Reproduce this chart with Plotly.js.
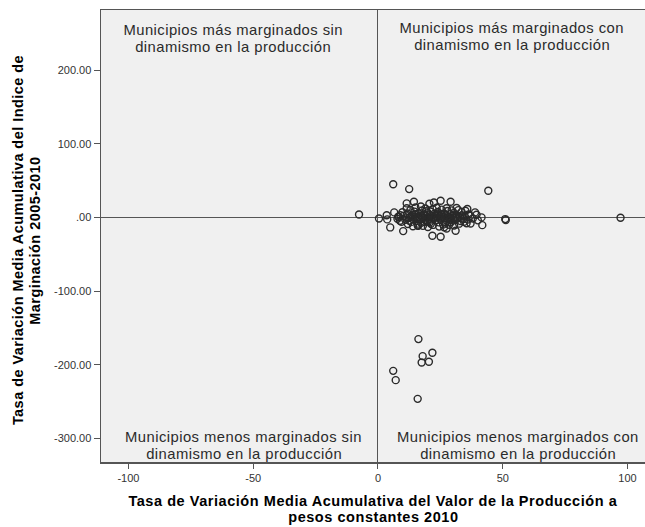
<!DOCTYPE html>
<html>
<head>
<meta charset="utf-8">
<script src="https://cdn.plot.ly/plotly-3.0.1.min.js"></script>
<style>
  html, body { margin: 0; padding: 0; background: #ffffff; overflow: hidden; }
  #chart { width: 645px; height: 527px; }
</style>
</head>
<body>
<div id="chart"></div>
<script>
// Tasa de variación del valor de la producción (x) vs. tasa de variación del índice de marginación (y)
const produccion = [
  -7.6, 0.4, 3.5, 3.7, 6.5, 4.9, 8.1, 8.8, 10.1, 6.1, 12.5, 44.2,
  11.5, 14.4, 20.6, 25.1, 29.1, 22.4, 35.8, 38.9, 41.5, 41.8, 37.1, 15.9,
  16.1, 27.5, 31.1, 21.8, 25.1, 51.2, 51.0, 97.2,
  10.2, 11.0, 11.8, 12.3, 12.9, 13.4, 13.8, 14.2, 14.6, 15.1, 15.5, 15.9,
  16.2, 16.6, 17.0, 17.3, 17.7, 18.1, 18.4, 18.8, 19.1, 19.5, 19.8, 20.2,
  20.5, 20.9, 21.2, 21.6, 21.9, 22.3, 22.6, 23.0, 23.3, 23.7, 24.0, 24.4,
  24.7, 25.1, 25.4, 25.8, 26.1, 26.5, 26.8, 27.2, 27.6, 27.9, 28.3, 28.6,
  29.0, 29.3, 29.7, 30.1, 30.5, 30.9, 31.3, 31.8, 32.2, 32.7, 33.1, 33.6,
  34.2, 34.8, 35.5, 36.3,
  9.4, 9.8, 11.5, 12.0, 13.0, 14.0, 15.0, 16.0, 17.2, 18.0, 19.0, 20.0,
  21.0, 22.0, 23.5, 24.5, 25.5, 26.5, 27.5, 28.5, 29.5, 30.5, 31.5, 32.5,
  33.5, 34.5, 35.0, 36.0, 37.0, 38.0, 39.5, 40.0, 8.5, 7.8, 9.0, 16.8,
  19.6, 21.4, 23.8, 26.0, 28.0, 14.8, 12.6, 18.6, 24.2, 30.0, 22.8, 17.6,
  20.8, 27.0, 15.3, 25.0, 29.0, 31.0, 13.6, 19.3, 33.0,
  16.2, 21.8, 17.9, 17.5, 20.4, 6.1, 7.1, 15.9
];
const marginacion = [
  4.0, -1.4, 3.0, -2.7, 6.8, -13.6, 0.8, -4.6, -18.6, 45.0, 38.4, 36.1,
  19.0, 21.2, 18.5, 22.5, 21.2, 20.3, 11.3, 6.8, 0.0, -10.5, -8.2, -10.9,
  -11.4, -15.0, -18.2, -25.0, -26.3, -3.7, -2.3, -0.5,
  2.1, -3.4, 5.2, -1.0, 0.8, -6.1, 3.7, -2.5, 7.9, 1.2, -4.8, 0.3,
  5.6, -1.9, 2.8, -7.2, 9.4, -0.6, 4.1, -3.3, 1.7, -5.5, 6.8, 0.4,
  -2.2, 3.3, -8.6, 1.0, 11.2, -1.4, 4.9, -4.1, 2.2, -0.2, 7.5, -6.7,
  1.5, -2.9, 3.9, 0.6, -9.8, 5.3, -1.1, 2.6, -4.4, 8.7, 0.2, -2.0,
  4.5, -6.3, 1.8, -0.9, 6.1, -3.7, 2.4, -1.6, 9.9, 0.9, -5.0, 3.0,
  -2.3, 1.4, -7.9, 4.0,
  -6.0, 7.0, 12.5, -9.0, 10.0, -12.0, 13.5, -8.5, 14.8, -11.5, 12.0, -13.0,
  8.0, -10.2, 13.0, -12.5, 10.5, -13.5, 12.5, -10.0, 9.5, -11.0, 12.8, -8.5,
  7.5, -6.0, 9.0, -3.0, 2.0, -1.5, 3.5, -4.0, 0.5, -2.0, 3.0, 0.0,
  -0.5, -3.0, 3.5, 1.0, -1.0, 4.0, -4.5, -6.0, 5.5, 3.0, 0.0, 2.0,
  -6.5, -6.5, -1.5, -0.5, -3.5, 0.5, 1.5, 8.5, -1.0,
  -165.2, -183.8, -188.3, -196.9, -196.0, -208.3, -220.9, -246.3
];

// Ejes
const xTickVals = [-100, -50, 0, 50, 100];
const xTickText = ['-100', '-50', '0', '50', '100'];
const yTickVals = [200, 100, 0, -100, -200, -300];
const yTickText = ['200.00', '100.00', '.00', '-100.00', '-200.00', '-300.00'];

// Títulos de los ejes (una entrada por renglón)
const xTitulo = [
  'Tasa de Variación Media Acumulativa del Valor de la Producción a',
  'pesos constantes 2010'
];
const yTitulo = [
  'Tasa de Variación Media Acumulativa del Indice de',
  'Marginación 2005-2010'
];

// Rótulos de los cuadrantes (dos renglones cada uno)
const cuadrantes = [
  ['Municipios más marginados sin', 'dinamismo en la producción'],
  ['Municipios más marginados con', 'dinamismo en la producción'],
  ['Municipios menos marginados sin', 'dinamismo en la producción'],
  ['Municipios menos marginados con', 'dinamismo en la producción']
];

const FONT = 'Liberation Sans, Arial, Helvetica, sans-serif';

const trace = {
  type: 'scatter',
  mode: 'markers',
  x: produccion,
  y: marginacion,
  marker: {
    symbol: 'circle-open',
    size: 7,
    color: '#2a2a2a',
    line: { width: 1.4, color: '#2a2a2a' }
  },
  hoverinfo: 'x+y'
};

// Rótulos: posición en coordenadas del área de trazado y espaciado entre letras
const annFont = { family: FONT, size: 14.8, color: '#2b2b2b' };
const quadPos = [
  { x: 0.243, y: [0.9558, 0.9181] },
  { x: 0.755, y: [0.9602, 0.9226] },
  { x: 0.262, y: [0.0553, 0.0177] },
  { x: 0.767, y: [0.0553, 0.0177] }
];
const annotations = [];
const spacing = [];
cuadrantes.forEach((lineas, i) => {
  lineas.forEach((t, j) => {
    annotations.push({
      xref: 'paper', yref: 'paper', x: quadPos[i].x, y: quadPos[i].y[j],
      xanchor: 'center', yanchor: 'middle',
      text: t, showarrow: false, font: annFont
    });
    spacing.push(0.45);
  });
});

const titleFont = { family: FONT, size: 14.5, color: '#000000', weight: 'bold' };
[-0.0865, -0.1215].forEach((yy, j) => {
  annotations.push({
    xref: 'paper', yref: 'paper', x: 0.5, y: yy,
    xanchor: 'center', yanchor: 'middle',
    text: xTitulo[j], showarrow: false, font: titleFont
  });
  spacing.push(0.55);
});
[-0.1525, -0.1215].forEach((xx, j) => {
  annotations.push({
    xref: 'paper', yref: 'paper', x: xx, y: 0.491,
    xanchor: 'center', yanchor: 'middle', textangle: -90,
    text: yTitulo[j], showarrow: false, font: titleFont
  });
  spacing.push(0.45);
});

const layout = {
  width: 645,
  height: 527,
  margin: { l: 101, r: 0, t: 10, b: 65 },
  paper_bgcolor: '#ffffff',
  plot_bgcolor: '#f0f0f0',
  showlegend: false,
  font: { family: FONT, size: 11, color: '#333333' },
  xaxis: {
    range: [-111, 107],
    tickvals: xTickVals,
    ticktext: xTickText,
    ticks: 'outside',
    ticklen: 5,
    tickwidth: 1,
    tickcolor: '#555555',
    tickfont: { family: FONT, size: 11, color: '#333333' },
    showline: true,
    mirror: true,
    linecolor: '#555555',
    linewidth: 1.5,
    showgrid: false,
    zeroline: true,
    zerolinecolor: '#555555',
    zerolinewidth: 1
  },
  yaxis: {
    range: [-332, 281.5],
    tickvals: yTickVals,
    ticktext: yTickText,
    ticks: 'outside',
    ticklen: 6,
    tickwidth: 1,
    tickcolor: '#555555',
    tickfont: { family: FONT, size: 11, color: '#333333' },
    showline: true,
    linecolor: '#555555',
    linewidth: 1.5,
    showgrid: false,
    zeroline: true,
    zerolinecolor: '#555555',
    zerolinewidth: 1
  },
  annotations: annotations
};

Plotly.newPlot('chart', [trace], layout, { displayModeBar: false, staticPlot: true }).then(gd => {
  // espaciado entre letras de cada rótulo
  gd.querySelectorAll('g.annotation').forEach(g => {
    const i = +g.getAttribute('data-index');
    const t = g.querySelector('text.annotation-text');
    if (t && spacing[i] !== undefined) t.style.letterSpacing = spacing[i] + 'px';
  });
});
</script>
</body>
</html>
